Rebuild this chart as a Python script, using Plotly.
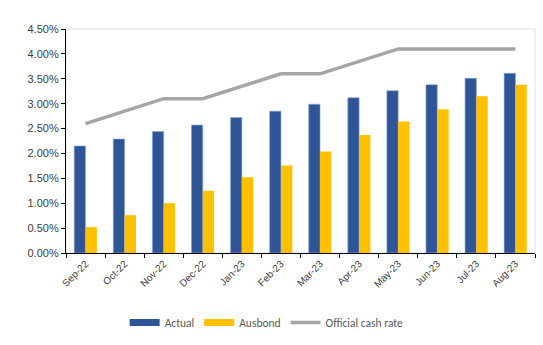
import plotly.graph_objects as go

months = ["Sep-22", "Oct-22", "Nov-22", "Dec-22", "Jan-23", "Feb-23",
          "Mar-23", "Apr-23", "May-23", "Jun-23", "Jul-23", "Aug-23"]
actual = [2.15, 2.29, 2.44, 2.57, 2.72, 2.85, 2.99, 3.12, 3.26, 3.38, 3.51, 3.61]
ausbond = [0.52, 0.76, 1.00, 1.25, 1.52, 1.76, 2.04, 2.37, 2.64, 2.89, 3.15, 3.38]
cash_rate = [2.60, 2.85, 3.10, 3.10, 3.35, 3.60, 3.60, 3.85, 4.10, 4.10, 4.10, 4.10]
y_ticks = [0, 0.5, 1.0, 1.5, 2.0, 2.5, 3.0, 3.5, 4.0, 4.5]
y_labels = [f"{v:.2f}%" for v in y_ticks]

blue, yellow, grey = "#2F5597", "#FFC000", "#A5A5A5"

fig = go.Figure()
fig.add_trace(go.Bar(x=months, y=actual, name="Actual", showlegend=False,
                     marker=dict(color=blue, line=dict(color="#8FAADC", width=0.6))))
fig.add_trace(go.Bar(x=months, y=ausbond, name="Ausbond", showlegend=False,
                     marker=dict(color=yellow, line=dict(width=0))))
fig.add_trace(go.Scatter(x=months, y=cash_rate, name="Official cash rate", mode="lines",
                         showlegend=False, line=dict(color=grey, width=3.5)))
# legend entries (wide rectangle swatches like the original)
for name, col, w in [("Actual", blue, 7), ("Ausbond", yellow, 7), ("Official cash rate", grey, 3.5)]:
    fig.add_trace(go.Scatter(x=[None], y=[None], name=name, mode="lines",
                             line=dict(color=col, width=w), showlegend=True))

fig.update_layout(
    width=543, height=345,
    margin=dict(l=66, r=8, t=29, b=89),
    paper_bgcolor="white", plot_bgcolor="white",
    barmode="group", bargap=0.42, bargroupgap=0,
    font=dict(family="Arial, Liberation Sans", size=11, color="#404040"),
    showlegend=True,
    legend=dict(orientation="h", x=0.125, xanchor="left", y=-0.31, yanchor="middle",
                font=dict(family="Carlito, Calibri, Lato, Liberation Sans", size=11.5, color="#595959"),
                traceorder="normal", itemwidth=30, tracegroupgap=0),
    shapes=[dict(type="rect", xref="paper", yref="paper", x0=0, x1=1, y0=0, y1=1,
                 line=dict(color="#DAE3F3", width=1), layer="below")],
)
fig.update_xaxes(showline=True, linecolor="black", linewidth=1.2,
                 ticks="outside", ticklen=4, tickcolor="black", tickson="boundaries",
                 tickangle=-45, tickfont=dict(size=10, color="#404040"),
                 showgrid=False)
fig.update_yaxes(range=[0, 4.5], tickvals=y_ticks, ticktext=y_labels,
                 showline=True, linecolor="black", linewidth=1.2,
                 ticks="outside", ticklen=4, tickcolor="black",
                 showgrid=False, zeroline=False, tickfont=dict(size=11, color="#404040"))

fig.write_html("out.html")
